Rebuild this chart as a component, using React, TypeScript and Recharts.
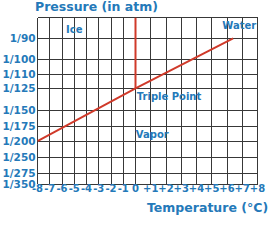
import React from 'react';
import { LineChart, Line, XAxis, YAxis, ReferenceLine, ReferenceDot } from 'recharts';

// ---- data ----
const temperatureTicks = [-8, -7, -6, -5, -4, -3, -2, -1, 0, 1, 2, 3, 4, 5, 6, 7, 8];
const pressureDenominators = [90, 100, 110, 125, 150, 175, 200, 250, 275, 350];
const pressureTickLabels = pressureDenominators.map((d) => `1/${d}`);
const topPressureDen = 80;

// vapour boundary (sublimation + vaporisation curve)
const vaporTemps = [-8, 0, 6.4];
const vaporPressureDen = [200, 125, 90];
// melting curve
const meltTemps = [0, 0];
const meltPressureDen = [125, 80];

// region annotations
const regionNames = ['Ice', 'Water', 'Triple Point', 'Vapor'];
const regionTemps = [-5, 6.8, 2.2, 1.1];
const regionPressureDen = [85.5, 84, 134, 188];

// ---- axis warp (the diagram's axes are not uniformly spaced) ----
const X_UNIT_NEG = 12.25;
const X_UNIT_POS = 15.25;
const Y_ROW_DEN = [topPressureDen, ...pressureDenominators];
const Y_ROW_OFFSET = [0, 21, 42, 57, 71, 93, 109, 124, 140, 156, 167];

const xw = (t: number) => (t < 0 ? t * X_UNIT_NEG : t * X_UNIT_POS);
const xun = (v: number) => Math.round(v < 0 ? v / X_UNIT_NEG : v / X_UNIT_POS);
const yw = (den: number) => {
  for (let i = 0; i < Y_ROW_DEN.length - 1; i++) {
    const a = Y_ROW_DEN[i];
    const b = Y_ROW_DEN[i + 1];
    if (den >= a && den <= b) {
      return Y_ROW_OFFSET[i] + ((den - a) / (b - a)) * (Y_ROW_OFFSET[i + 1] - Y_ROW_OFFSET[i]);
    }
  }
  return Y_ROW_OFFSET[Y_ROW_OFFSET.length - 1];
};

const vaporLine = vaporTemps.map((t, i) => ({ x: xw(t), y: yw(vaporPressureDen[i]) }));
const meltLine = meltTemps.map((t, i) => ({ x: xw(t), y: yw(meltPressureDen[i]) }));

const xTicks = temperatureTicks.map(xw);
const yTicks = Y_ROW_DEN.map(yw);

const BLUE = '#2479b9';
const RED = '#d03a2a';
const GRID = '#383838';
const FONT = '"DejaVu Sans", Verdana, sans-serif';

const fmtX = (v: number) => {
  const t = xun(v);
  return t > 0 ? `+${t}` : `${t}`;
};
const fmtY = (v: number) => {
  const i = yTicks.findIndex((o) => Math.abs(o - v) < 0.01);
  return i > 0 ? pressureTickLabels[i - 1] : '';
};

export default function App() {
  return (
    <div style={{ position: 'absolute', left: 0, top: 0, width: 269, height: 240, background: '#fff', fontFamily: FONT }}>
      <LineChart width={269} height={240} margin={{ top: 17.5, right: 11.5, bottom: 0.5, left: 0 }}>
        <XAxis
          type="number"
          dataKey="x"
          domain={[xw(-8), xw(8)]}
          ticks={xTicks}
          interval={0}
          tickFormatter={fmtX}
          axisLine={false}
          tickLine={false}
          tickSize={0}
          tickMargin={1}
          height={55.5}
          tick={{ fill: BLUE, fontSize: 10, fontWeight: 'bold', fontFamily: FONT }}
          allowDataOverflow
        />
        <YAxis
          type="number"
          dataKey="y"
          reversed
          domain={[0, Y_ROW_OFFSET[Y_ROW_OFFSET.length - 1]]}
          ticks={yTicks}
          interval={0}
          tickFormatter={fmtY}
          axisLine={false}
          tickLine={false}
          tickSize={0}
          tickMargin={2}
          width={37.5}
          tick={{ fill: BLUE, fontSize: 10.5, fontWeight: 'bold', fontFamily: FONT }}
          allowDataOverflow
        />
        {xTicks.map((v) => (
          <ReferenceLine key={`vx${v}`} x={v} stroke={GRID} strokeWidth={1} shapeRendering="crispEdges" ifOverflow="visible" />
        ))}
        {yTicks.map((v) => (
          <ReferenceLine key={`hy${v}`} y={v} stroke={GRID} strokeWidth={1} shapeRendering="crispEdges" ifOverflow="visible" />
        ))}
        <Line data={meltLine} dataKey="y" stroke={RED} strokeWidth={2} dot={false} isAnimationActive={false} />
        <Line data={vaporLine} dataKey="y" stroke={RED} strokeWidth={2} dot={false} isAnimationActive={false} />
        {regionNames.map((name, i) => (
          <ReferenceDot
            key={name}
            x={xw(regionTemps[i])}
            y={yw(regionPressureDen[i])}
            r={0}
            stroke="none"
            fill="none"
            label={{ value: name, position: 'center', fill: BLUE, fontSize: 10, fontWeight: 'bold', fontFamily: FONT }}
          />
        ))}
      </LineChart>
      <div style={{ position: 'absolute', left: 35, top: -1, color: BLUE, fontSize: 12.5, fontWeight: 'bold', whiteSpace: 'nowrap' }}>
        Pressure (in atm)
      </div>
      <div style={{ position: 'absolute', left: 147, top: 200, color: BLUE, fontSize: 12.5, fontWeight: 'bold', whiteSpace: 'nowrap' }}>
        Temperature (°C)
      </div>
    </div>
  );
}
